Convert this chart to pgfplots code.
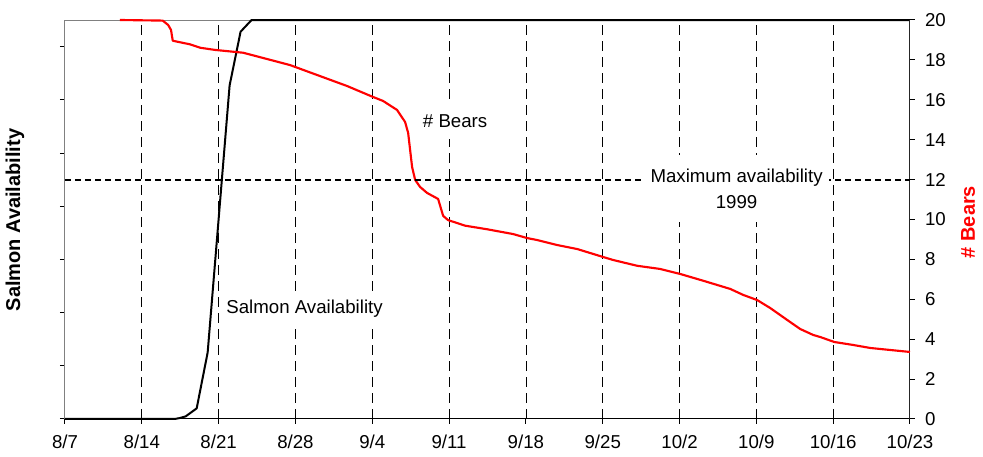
\documentclass[border=0pt]{standalone}
\usepackage{pgfplots}
\pgfplotsset{compat=1.18}
\usepackage{fontspec}
\setmainfont{Liberation Sans}
\begin{document}
\begin{tikzpicture}
\useasboundingbox (-48.75pt,-28.5pt) rectangle (688.5pt,314.25pt);
\pgfplotsset{
  common/.style={
    scale only axis, width=633.75pt, height=299.25pt,
    at={(0,0)}, anchor=south west,
    xmin=0, xmax=77,
    tick align=outside, major tick length=3.75pt,
    tick style={black, line width=0.75pt},
    clip=false,
    ticklabel style={font=\fontsize{14}{16}\selectfont},
    /pgf/number format/assume math mode=true,
  }
}
\begin{axis}[common,
  ymin=0, ymax=7.5,
  xtick={0,7,...,77},
  xticklabels={8/7,8/14,8/21,8/28,9/4,9/11,9/18,9/25,10/2,10/9,10/16,10/23},
  xticklabel style={yshift=-5pt},
  ytick={0,1,...,7}, yticklabels={},
  xtick pos=left, ytick pos=left,
  axis line style={draw=gray, line width=0.75pt},
  extra x ticks={7,14,...,70},
  extra x tick labels={},
  extra x tick style={grid=major, major tick length=0pt},
  grid style={black, line width=0.6pt, dash pattern=on 7.5pt off 4.5pt},
]
\addplot[black, line width=1.5pt, line join=round] coordinates {
(0,0)(10,0)(10.5,0.02)(11,0.05)(12,0.2)(13,1.25)(15,6.27)(16,7.28)(17,7.5)(77,7.5)};
\end{axis}
\draw[black, line width=0.75pt] (0,0) -- (633.75pt,0);
\begin{axis}[common,
  ymin=0, ymax=20,
  axis x line=none, axis y line*=right,
  axis line style={-, black!85, line width=0.75pt},
  ytick={0,2,...,20},
  yticklabel style={xshift=4pt},
]
\addplot[red, line width=1.6pt, line join=round] coordinates {
(5,20) (8.9,19.97) (9.4,19.75) (9.66,19.5) (9.82,18.96) (11.39,18.78) (12.31,18.61) (13.67,18.5) (16.23,18.36) (20.51,17.74) (25.71,16.69) (27.99,16.16) (28.99,15.94) (30.26,15.49) (30.99,14.89) (31.27,14.34) (31.45,13.48) (31.63,12.63) (31.91,11.98) (32.36,11.63) (33.0,11.33) (34.0,11.03) (34.46,10.18) (34.91,9.97) (36.46,9.69) (38.47,9.51) (40.84,9.27) (42.11,9.07) (43.03,8.97) (44.85,8.72) (46.67,8.52) (49.04,8.12) (49.95,7.97) (52.14,7.68) (54.24,7.52) (56.06,7.27) (58.16,6.93) (60.62,6.52) (61.8,6.22) (63.08,5.96) (64.27,5.56) (65.82,4.96) (67.0,4.51) (68.19,4.21) (68.82,4.11) (70.1,3.86) (71.83,3.71) (73.38,3.56) (77,3.36)};
\addplot[black, line width=1.5pt, dash pattern=on 4.5pt off 3pt] coordinates {(0,12)(77,12)};
\node[fill=white, inner xsep=5pt, inner ysep=10pt, align=center, font=\fontsize{14}{19.5}\selectfont] at (axis cs:61.2,11.55) {Maximum availability\\1999};
\node[fill=white, inner xsep=3pt, inner ysep=9pt, font=\fontsize{14}{16}\selectfont] at (axis cs:35.55,14.94) {\# Bears};
\node[fill=white, inner xsep=3pt, inner ysep=6pt, font=\fontsize{14}{16}\selectfont] at (axis cs:21.83,5.54) {Salmon Availability};
\end{axis}
\node[rotate=90, font=\fontsize{15}{18}\selectfont\bfseries] at (-37.5pt,149.25pt) {Salmon Availability};
\node[rotate=90, red, font=\fontsize{15}{18}\selectfont\bfseries] at (677.25pt,147.75pt) {\# Bears};
\end{tikzpicture}
\end{document}
